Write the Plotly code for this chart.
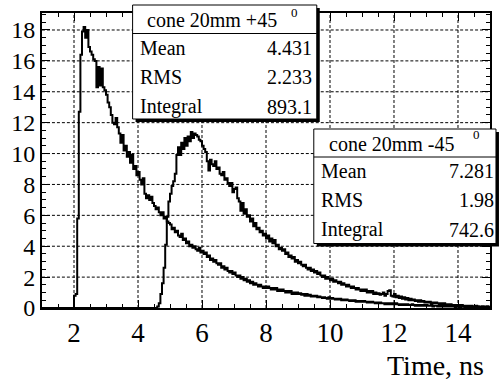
import plotly.graph_objects as go

# ---------------- data ----------------
BIN_WIDTH = 0.05
AXIS_START = 1.0
X_RANGE = [1, 15]
Y_RANGE = [0, 19.1]

# cone 20mm +45 deg : bins start at 2.00 ns
plus45_start = 2.0
plus45_counts = [
    0.8, 0.9, 5.8, 12.7, 16.4, 17.9, 18.2, 17.5, 18.0, 16.9, 16.6, 16.4, 16.1, 16.0, 14.3, 15.6, 14.4, 15.5, 14.3, 14.1,
    13.8, 13.3, 13.0, 12.5, 12.0, 11.9, 12.3, 11.7, 11.3, 10.7, 11.2, 10.2, 10.5, 9.8, 10.1, 9.4, 9.9, 9.0, 9.2, 8.6,
    8.8, 8.3, 8.0, 8.4, 7.4, 7.1, 7.3, 7.0, 7.2, 6.8, 6.6, 6.4, 6.5, 6.2, 6.0, 6.2, 5.8, 5.9, 5.6, 5.5,
    5.4, 5.1, 5.2, 4.9, 5.0, 4.7, 4.6, 4.8, 4.4, 4.5, 4.2, 4.3, 4.0, 4.1, 3.9, 4.0, 3.8, 3.7, 3.9, 3.6,
    3.7, 3.5, 3.6, 3.3, 3.4, 3.1, 3.2, 3.0, 3.1, 2.9, 2.8, 2.9, 2.6, 2.7, 2.5, 2.6, 2.4, 2.3, 2.4, 2.2,
    2.3, 2.1, 2.0, 2.1, 1.9, 2.0, 1.8, 1.9, 1.7, 1.8, 1.6, 1.7, 1.5, 1.6, 1.5, 1.4, 1.5, 1.4, 1.3, 1.4,
    1.3, 1.4, 1.3, 1.2, 1.3, 1.2, 1.3, 1.1, 1.2, 1.1, 1.2, 1.1, 1.0, 1.1, 1.0, 1.1, 0.9, 1.0, 0.9, 1.0,
    0.9, 0.95, 0.85, 0.9, 0.8, 0.9, 0.8, 0.85, 0.75, 0.8, 0.75, 0.8, 0.7, 0.75, 0.7, 0.65, 0.7, 0.65, 0.6, 0.7,
    0.6, 0.65, 0.6, 0.55, 0.6, 0.55, 0.6, 0.5, 0.55, 0.5, 0.55, 0.5, 0.45, 0.5, 0.45, 0.5, 0.4, 0.45, 0.4, 0.45,
    0.4, 0.45, 0.4, 0.35, 0.4, 0.35, 0.4, 0.35, 0.3, 0.35, 0.3, 0.35, 0.3, 0.3, 0.25, 0.3, 0.25, 0.3, 0.25, 0.3,
    0.25, 0.3, 0.25, 0.2, 0.25, 0.2, 0.25, 0.2, 0.25, 0.2, 0.2, 0.25, 0.2, 0.15, 0.2, 0.15, 0.2, 0.15, 0.2, 0.15,
    0.2, 0.15, 0.15, 0.2, 0.1, 0.15, 0.15, 0.1, 0.15, 0.1, 0.15, 0.1, 0.15, 0.1, 0.1, 0.15, 0.1, 0.1, 0.05, 0.1,
    0.1, 0.05, 0.1, 0.1, 0.05, 0.1, 0.05, 0.1, 0.05, 0.1, 0.05, 0.05, 0.1, 0.05, 0.05, 0.1, 0.05, 0.05, 0.1, 0.05,
]

# cone 20mm -45 deg : bins start at 4.60 ns
minus45_start = 4.6
minus45_counts = [
    0.1, 0.3, 0.9, 1.6, 2.6, 4.1, 5.9, 6.9,
    7.4, 7.9, 8.2, 8.7, 9.9, 10.4, 9.9, 10.7, 10.3, 11.0, 10.5, 11.1, 10.8, 11.4, 11.0, 11.3, 11.2, 11.1, 10.9, 10.8,
    10.5, 10.3, 10.1, 9.5, 8.9, 9.6, 9.3, 9.2, 9.5, 9.0, 9.1, 8.7, 8.6, 8.8, 8.3, 8.4, 8.1, 7.9, 8.1, 7.5,
    7.7, 7.8, 7.1, 6.9, 6.3, 6.8, 6.1, 6.4, 5.9, 6.0, 5.6, 5.8, 5.3, 5.5, 5.1, 5.2, 4.9, 5.0, 4.7, 4.8,
    4.5, 4.7, 4.3, 4.5, 4.2, 4.4, 4.0, 4.1, 3.8, 3.9, 3.7, 3.8, 3.5, 3.6, 3.3, 3.4, 3.2, 3.3, 3.0, 3.1,
    2.9, 3.0, 2.8, 2.7, 2.8, 2.6, 2.5, 2.6, 2.4, 2.5, 2.3, 2.4, 2.2, 2.3, 2.1, 2.0, 2.1, 1.9, 2.0, 1.9,
    1.8, 1.9, 1.7, 1.8, 1.7, 1.6, 1.7, 1.5, 1.6, 1.5, 1.4, 1.5, 1.4, 1.3, 1.4, 1.3, 1.2, 1.3, 1.2, 1.1,
    1.2, 1.1, 1.2, 1.0, 1.1, 1.0, 1.1, 0.9, 1.0, 0.9, 0.95, 0.85, 0.9, 1.0, 0.8, 0.9, 1.1, 1.15, 0.8, 0.75,
    0.9, 0.7, 0.8, 0.65, 0.75, 0.6, 0.7, 0.55, 0.65, 0.5, 0.6, 0.5, 0.55, 0.45, 0.5, 0.4, 0.5, 0.4, 0.45, 0.35,
    0.4, 0.35, 0.4, 0.3, 0.35, 0.3, 0.35, 0.3, 0.25, 0.3, 0.25, 0.3, 0.2, 0.25, 0.2, 0.25, 0.2, 0.15, 0.2, 0.15,
    0.2, 0.15, 0.2, 0.1, 0.15, 0.1, 0.15, 0.1, 0.15, 0.1, 0.1, 0.15, 0.05, 0.1, 0.1, 0.05, 0.1, 0.05, 0.1, 0.05,
]

stats_plus = {"title": "cone 20mm +45", "Mean": "4.431", "RMS": "2.233", "Integral": "893.1"}
stats_minus = {"title": "cone 20mm -45", "Mean": "7.281", "RMS": "1.98", "Integral": "742.6"}

x_ticks = [2, 4, 6, 8, 10, 12, 14]
y_ticks = [0, 2, 4, 6, 8, 10, 12, 14, 16, 18]
x_title = "Time, ns"

# ---------------- figure ----------------
FONT = "Liberation Serif"
W, H = 500, 383
L, R, T, B = 42, 8, 13, 75
PW, PH = W - L - R, H - T - B
DASH_ON_PX, DASH_OFF_PX = 3.0, 2.0

fig = go.Figure()


def step_xy(start, counts):
    edges = [start + i * BIN_WIDTH for i in range(len(counts) + 1)]
    xs = [AXIS_START] + edges
    ys = [0] + list(counts) + [counts[-1]]
    return xs, ys


for start, counts in [(plus45_start, plus45_counts), (minus45_start, minus45_counts)]:
    xs, ys = step_xy(start, counts)
    fig.add_trace(go.Scatter(x=xs, y=ys, mode="lines", line=dict(color="black", width=2, shape="hv"),
                             showlegend=False, hoverinfo="skip"))


def px(x):
    return (x - L) / PW


def py(y):
    return (T + PH - y) / PH


def data_to_paper_x(v):
    return (v - X_RANGE[0]) / (X_RANGE[1] - X_RANGE[0])


def data_to_paper_y(v):
    return (v - Y_RANGE[0]) / (Y_RANGE[1] - Y_RANGE[0])


shapes = []
annotations = []

# dashed grid at the major ticks: one path shape (paper coordinates) made of short dashes
on_x, per_x = DASH_ON_PX / PW, (DASH_ON_PX + DASH_OFF_PX) / PW
on_y, per_y = DASH_ON_PX / PH, (DASH_ON_PX + DASH_OFF_PX) / PH
parts = []
for xv in x_ticks:
    gxp = data_to_paper_x(xv)
    pos = 0.0
    while pos < 1.0:
        parts.append(f"M{gxp:.5f},{pos:.5f}L{gxp:.5f},{min(pos + on_y, 1.0):.5f}")
        pos += per_y
for yv in y_ticks[1:]:
    gyp = data_to_paper_y(yv)
    pos = 0.0
    while pos < 1.0:
        parts.append(f"M{pos:.5f},{gyp:.5f}L{min(pos + on_x, 1.0):.5f},{gyp:.5f}")
        pos += per_x
shapes.append(dict(type="path", xref="paper", yref="paper", path="".join(parts),
                   line=dict(color="black", width=1), layer="above"))


def stats_box(x0, x1, y0, y1, sep, rows, stats, lab_x, val_x, title_x, sup_x, title_y, sup_y):
    sh = 3
    shapes.append(dict(type="rect", xref="paper", yref="paper", x0=px(x0 + sh), x1=px(x1 + sh),
                       y0=py(y0 + sh), y1=py(y1 + sh), fillcolor="black", line=dict(width=0), layer="above"))
    shapes.append(dict(type="rect", xref="paper", yref="paper", x0=px(x0), x1=px(x1),
                       y0=py(y0), y1=py(y1), fillcolor="white", line=dict(color="black", width=1), layer="above"))
    shapes.append(dict(type="line", xref="paper", yref="paper", x0=px(x0), x1=px(x1),
                       y0=py(sep), y1=py(sep), line=dict(color="black", width=1), layer="above"))
    annotations.append(dict(text=stats["title"], x=px(title_x), y=py(title_y), xref="paper", yref="paper",
                            xanchor="left", yanchor="middle", showarrow=False,
                            font=dict(family=FONT, size=20, color="black")))
    annotations.append(dict(text="0", x=px(sup_x), y=py(sup_y), xref="paper", yref="paper",
                            xanchor="center", yanchor="middle", showarrow=False,
                            font=dict(family=FONT, size=13, color="black")))
    for key, ry in zip(["Mean", "RMS", "Integral"], rows):
        annotations.append(dict(text=key, x=px(lab_x), y=py(ry), xref="paper", yref="paper",
                                xanchor="left", yanchor="middle", showarrow=False,
                                font=dict(family=FONT, size=20, color="black")))
        annotations.append(dict(text=stats[key], x=px(val_x), y=py(ry), xref="paper", yref="paper",
                                xanchor="right", yanchor="middle", showarrow=False,
                                font=dict(family=FONT, size=20, color="black")))


stats_box(133, 318, 5, 119, 33.5, [47.5, 77, 106.5], stats_plus,
          lab_x=138, val_x=315, title_x=145, sup_x=296, title_y=20, sup_y=12)
stats_box(315, 498, 129, 243.5, 157, [170.5, 200, 230], stats_minus,
          lab_x=320, val_x=498, title_x=328, sup_x=478.5, title_y=143.5, sup_y=134)

annotations.append(dict(text=x_title, x=px(488), y=py(365), xref="paper", yref="paper",
                        xanchor="right", yanchor="middle", showarrow=False,
                        font=dict(family=FONT, size=28, color="black")))

axis_common = dict(showline=True, linecolor="black", linewidth=2, mirror="allticks",
                   ticks="inside", tickcolor="black", tickwidth=1, ticklen=8,
                   showgrid=False, zeroline=False)

fig.update_layout(
    width=W, height=H,
    margin=dict(l=L, r=R, t=T, b=B, pad=0),
    paper_bgcolor="white", plot_bgcolor="white",
    font=dict(family=FONT, color="black"),
    xaxis=dict(range=X_RANGE, tickmode="linear", tick0=0, dtick=2,
               tickfont=dict(family=FONT, size=27, color="black"),
               minor=dict(dtick=0.5, tick0=0, ticks="inside", ticklen=4, tickcolor="black", showgrid=False),
               **axis_common),
    yaxis=dict(range=Y_RANGE, tickmode="linear", tick0=0, dtick=2,
               tickfont=dict(family=FONT, size=24, color="black"),
               minor=dict(dtick=0.5, tick0=0, ticks="inside", ticklen=4, tickcolor="black", showgrid=False),
               **axis_common),
    shapes=shapes,
    annotations=annotations,
    showlegend=False,
)

fig.write_html("out.html")
